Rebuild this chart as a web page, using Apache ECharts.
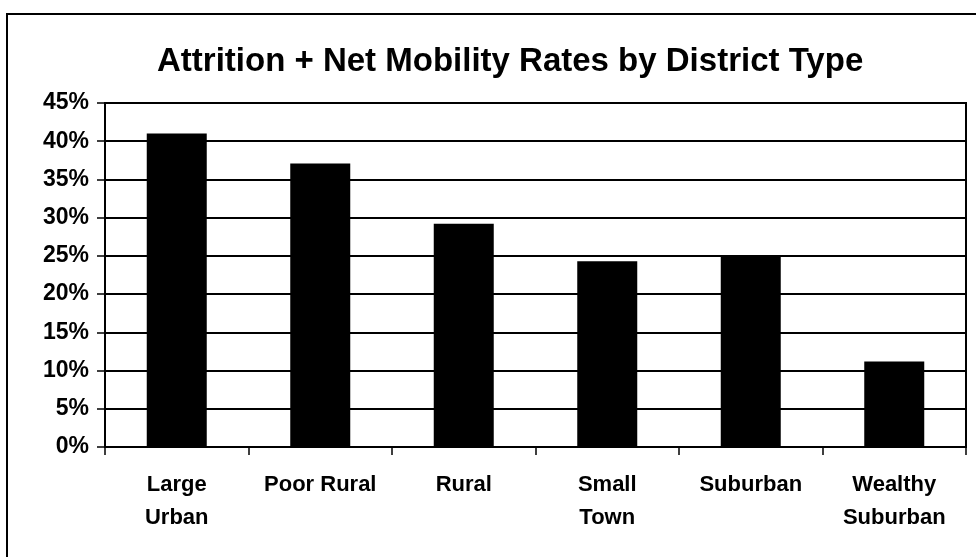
<!DOCTYPE html>
<html>
<head>
<meta charset="utf-8">
<script src="https://cdn.jsdelivr.net/npm/echarts@6/dist/echarts.min.js"></script>
<style>
html,body{margin:0;padding:0;background:#fff;overflow:hidden;}
#frame{position:absolute;left:6px;top:13px;width:1000px;height:560px;border-left:2px solid #000;border-top:2px solid #000;box-sizing:border-box;}
#chart{position:absolute;left:0;top:0;width:976px;height:557px;}
</style>
</head>
<body>
<div id="frame"></div>
<div id="chart"></div>
<script>
const categories = ["Large\nUrban", "Poor Rural", "Rural", "Small\nTown", "Suburban", "Wealthy\nSuburban"];
const rates = [41.0, 37.1, 29.2, 24.3, 25.1, 11.2];
const yTicks = [0, 5, 10, 15, 20, 25, 30, 35, 40, 45];

const chart = echarts.init(document.getElementById('chart'));
const font = '"Liberation Sans", Arial, Helvetica, sans-serif';
chart.setOption({
  animation: false,
  backgroundColor: 'transparent',
  title: {
    text: 'Attrition + Net Mobility Rates by District Type',
    left: 152,
    top: 40,
    textStyle: {fontFamily: font, fontWeight: 'bold', fontSize: 33, color: '#000'}
  },
  grid: {left: 105, right: 10, top: 103, bottom: 110, show: true, borderColor: '#000', borderWidth: 2},
  xAxis: {
    type: 'category',
    data: categories,
    boundaryGap: true,
    axisLine: {lineStyle: {color: '#000', width: 2}},
    axisTick: {show: true, inside: false, length: 8, alignWithLabel: false, lineStyle: {color: '#000', width: 1.5}},
    axisLabel: {fontFamily: font, fontWeight: 'bold', fontSize: 22, color: '#000', margin: 21, lineHeight: 33, interval: 0}
  },
  yAxis: {
    type: 'value',
    min: yTicks[0],
    max: yTicks[yTicks.length - 1],
    interval: 5,
    axisLine: {show: true, lineStyle: {color: '#000', width: 2}},
    axisTick: {show: true, length: 8, lineStyle: {color: '#000', width: 1.5}},
    splitLine: {show: true, lineStyle: {color: '#000', width: 2}},
    axisLabel: {fontFamily: font, fontWeight: 'bold', fontSize: 23, color: '#000', margin: 16, formatter: v => v + '%'}
  },
  series: [{
    type: 'bar',
    data: rates,
    barWidth: 60,
    itemStyle: {color: '#000'}
  }]
});
</script>
</body>
</html>
